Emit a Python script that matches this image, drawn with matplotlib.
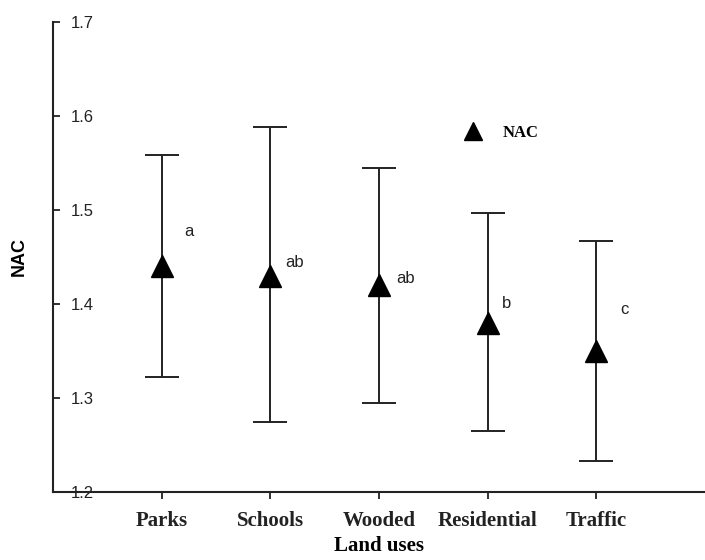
import matplotlib
matplotlib.use('Agg')
import matplotlib.pyplot as plt

# values
land_uses = ['Parks', 'Schools', 'Wooded', 'Residential', 'Traffic']
nac_mean = [1.44, 1.43, 1.42, 1.38, 1.35]
nac_upper = [1.558, 1.588, 1.545, 1.497, 1.467]
nac_lower = [1.322, 1.274, 1.295, 1.265, 1.233]
group_letters = ['a', 'ab', 'ab', 'b', 'c']
letter_x = [1.25, 2.22, 3.24, 4.17, 5.26]
letter_y = [1.477, 1.444, 1.427, 1.401, 1.394]
y_ticks = [1.2, 1.3, 1.4, 1.5, 1.6, 1.7]

serif_bold = dict(family=['Liberation Serif', 'DejaVu Serif'], weight='bold')
sans = ['Liberation Sans', 'DejaVu Sans']

fig = plt.figure(figsize=(7.05, 5.6), dpi=100)
ax = fig.add_axes([53 / 705, 68 / 560, 652 / 705, 470 / 560])

x = list(range(1, len(land_uses) + 1))
err_low = [m - l for m, l in zip(nac_mean, nac_lower)]
err_high = [u - m for m, u in zip(nac_mean, nac_upper)]

ax.errorbar(x, nac_mean, yerr=[err_low, err_high], fmt='none',
            ecolor='#222222', elinewidth=1.4, capsize=12.5, capthick=1.4, zorder=2)
ax.plot(x, nac_mean, linestyle='none', marker='^', markersize=16,
        color='black', label='NAC', zorder=3)

for lx, ly, t in zip(letter_x, letter_y, group_letters):
    ax.text(lx, ly, t, ha='center', va='center', fontsize=12,
            family=sans, color='#222222')

ax.set_xlim(0, 6)
ax.set_ylim(1.2, 1.7)
ax.set_xticks(x)
ax.set_xticklabels(land_uses, fontsize=15, **serif_bold)
ax.set_yticks(y_ticks)
ax.set_yticklabels([f'{v:.1f}' for v in y_ticks], fontsize=12,
                   family=sans, color='#222222')

ax.spines['top'].set_visible(False)
ax.spines['right'].set_visible(False)
for s in ['left', 'bottom']:
    ax.spines[s].set_linewidth(1.5)
    ax.spines[s].set_color('#222222')

ax.tick_params(axis='x', direction='out', length=5, width=1.3, pad=9, colors='#222222')
ax.tick_params(axis='y', direction='in', length=5, width=1.3, pad=-13, colors='#222222')
for lbl in ax.get_yticklabels():
    lbl.set_horizontalalignment('left')

ax.set_ylabel('NAC', fontsize=13, fontweight='bold', family=sans, labelpad=18)
ax.set_xlabel('Land uses', fontsize=15, labelpad=3, **serif_bold)

ax.legend(loc='center left', bbox_to_anchor=(0.595, 0.764), frameon=False,
          handletextpad=0.8, markerscale=0.85,
          prop=dict(family=['Liberation Serif', 'DejaVu Serif'], weight='bold', size=12))

fig.savefig('out.png', dpi=100)
